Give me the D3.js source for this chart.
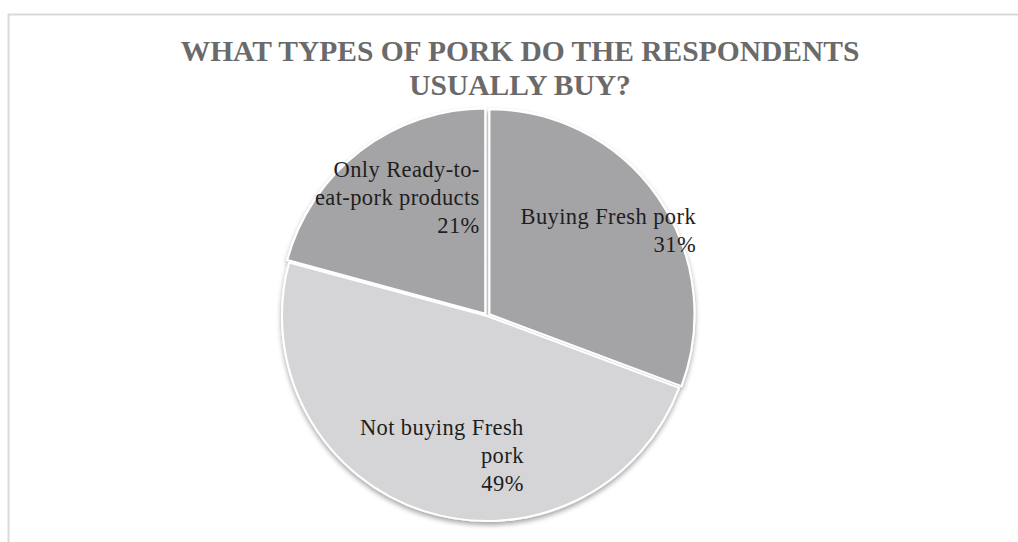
<!DOCTYPE html>
<html>
<head>
<meta charset="UTF-8">
<title>Pork types pie</title>
<script src="https://cdn.jsdelivr.net/npm/d3@7/dist/d3.min.js"></script>
<style>
  body { margin: 0; background: #fff; }
</style>
</head>
<body>
<script>
    // Daten
    let categories = ["Buying Fresh pork", "Not buying Fresh pork", "Only Ready-to-eat-pork products"];
    let values = [31, 49, 21];
    let labelLines = [
        ["Buying Fresh pork", "31%"],
        ["Not buying Fresh", "pork", "49%"],
        ["Only Ready-to-", "eat-pork products", "21%"]
    ];
    let colors = ["#a4a4a7", "#d5d5d8", "#a4a4a7"];
    let explode = [3, 0, 3];
    let titleLines = ["WHAT TYPES OF PORK DO THE RESPONDENTS", "USUALLY BUY?"];

    let W = 1018, H = 542;
    let cx = 487, cy = 316, R = 205;

    let svg = d3.select("body").append("svg")
        .attr("width", W)
        .attr("height", H);

    // Rahmen
    svg.append("rect")
        .attr("x", 8.5).attr("y", 14.5)
        .attr("width", 1020).attr("height", 540)
        .attr("fill", "#fff")
        .attr("stroke", "#d9d9d9")
        .attr("stroke-width", 2);

    // Titel
    svg.append("text")
        .attr("x", 520)
        .attr("text-anchor", "middle")
        .attr("font-family", "'Liberation Serif', serif")
        .attr("font-weight", "bold")
        .attr("font-size", "29.5px")
        .attr("fill", "#6a6a6a")
        .selectAll("tspan")
        .data(titleLines)
        .enter().append("tspan")
        .attr("x", 520)
        .attr("y", (d, i) => 61 + i * 34)
        .text(d => d);

    // Schatten
    let defs = svg.append("defs");
    let f = defs.append("filter").attr("id", "shadow")
        .attr("x", "-10%").attr("y", "-10%").attr("width", "120%").attr("height", "125%");
    f.append("feDropShadow")
        .attr("dx", 0).attr("dy", 3)
        .attr("stdDeviation", 2.5)
        .attr("flood-color", "#000")
        .attr("flood-opacity", 0.35);

    let pie = d3.pie().sort(null).value(d => d);
    let arcs = pie(values);
    let arc = d3.arc().innerRadius(0).outerRadius(R);
    let labelArc = d3.arc().innerRadius(R * 0.72).outerRadius(R * 0.72);

    let g = svg.append("g")
        .attr("transform", "translate(" + cx + "," + cy + ")");

    let pieG = g.append("g").attr("filter", "url(#shadow)");

    pieG.selectAll("path")
        .data(arcs)
        .enter().append("path")
        .attr("d", arc)
        .attr("transform", function (d, i) {
            let a = (d.startAngle + d.endAngle) / 2;
            return "translate(" + (Math.sin(a) * explode[i]) + "," + (-Math.cos(a) * explode[i]) + ")";
        })
        .attr("fill", (d, i) => colors[i])
        .attr("stroke", "#fff")
        .attr("stroke-width", 2);

    // Beschriftungen (rechtsbuendig, Block um Schwerpunkt zentriert)
    let lineH = 28;
    arcs.forEach(function (d, i) {
        let c = labelArc.centroid(d);
        let lines = labelLines[i];
        let t = g.append("text")
            .attr("font-family", "'Liberation Serif', serif")
            .attr("font-size", "22.5px")
            .attr("letter-spacing", "0.4px")
            .attr("fill", "#1e1e1e")
            .attr("text-anchor", "end");
        let spans = t.selectAll("tspan").data(lines).enter().append("tspan").text(s => s);
        let maxW = 0;
        spans.each(function () { maxW = Math.max(maxW, this.getComputedTextLength()); });
        let right = c[0] + maxW / 2;
        let top = c[1] - (lines.length * lineH) / 2;
        spans.attr("x", right)
            .attr("y", (s, j) => top + 20 + j * lineH);
    });
</script>
</body>
</html>
